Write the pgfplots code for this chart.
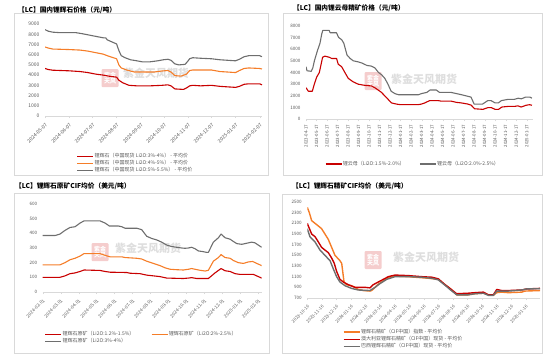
\documentclass[border=0pt]{standalone}
\usepackage{pgfplots}
\pgfplotsset{compat=1.18}
\usepackage{fontspec}
\setmainfont{Noto Sans CJK SC}
\definecolor{cred}{RGB}{200,0,0}
\definecolor{corange}{RGB}{245,125,40}
\definecolor{cgray}{RGB}{110,110,110}
\definecolor{cframe}{RGB}{217,217,217}
\definecolor{ctick}{RGB}{89,89,89}
\definecolor{cwm}{RGB}{222,222,222}
\definecolor{cseal}{RGB}{245,205,205}
\pgfplotsset{
  panel/.style={
    scale only axis, anchor=south west,
    axis x line*=bottom, axis y line*=left,
    y axis line style={draw=none},
    x axis line style={draw=cframe,line width=0.6pt},
    ytick style={draw=none},
    xtick style={draw=cframe},
    tick align=outside, major tick length=2pt,
    ticklabel style={text=ctick},
    /pgf/number format/assume math mode=true,
    /pgf/number format/1000 sep={},
    legend cell align=left,
    legend style={draw=none,fill=none,text=ctick,inner sep=0pt,outer sep=0pt,
      font=\fontsize{5}{5}\selectfont,
      nodes={inner sep=0.7pt}},
    legend image code/.code={\draw[##1] (0pt,0pt) -- (16pt,0pt);},
    every axis plot/.append style={line width=1.1pt, line join=round},
  },
}
\newcommand{\wm}[4]{%
  \node[fill=cseal,rounded corners=1pt,minimum width=17pt,minimum height=18pt,text=white,align=center,font=\fontsize{6}{6.5}\selectfont\bfseries,inner sep=0pt] at (#1,#2) {紫金\\天风};
  \node[text=cwm,font=\fontsize{11}{11}\selectfont\bfseries] at (#3,#4) {紫金天风期货};
}
\begin{document}
\begin{tikzpicture}[x=1pt,y=1pt]
\useasboundingbox (0,0) rectangle (550,360);
% frames
\draw[cframe,line width=0.6pt] (14,185) rectangle (268,347);
\draw[cframe,line width=0.6pt] (283,185) rectangle (542,347);
\draw[cframe,line width=0.6pt] (14,7) rectangle (269,167);
\draw[cframe,line width=0.6pt] (282,7) rectangle (542,166);
% titles
\node[anchor=west,font=\fontsize{6.7}{7}\selectfont\bfseries,inner sep=0pt] at (18,350) {【LC】国内锂辉石价格（元/吨）};
\node[anchor=west,font=\fontsize{6.7}{7}\selectfont\bfseries,inner sep=0pt] at (293,352) {【LC】国内锂云母精矿价格（元/吨）};
\node[anchor=west,font=\fontsize{6.7}{7}\selectfont\bfseries,inner sep=0pt] at (15,174) {【LC】锂辉石原矿CIF均价（美元/吨）};
\node[anchor=west,font=\fontsize{6.7}{7}\selectfont\bfseries,inner sep=0pt] at (292,174) {【LC】锂辉石精矿CIF均价（美元/吨）};
% watermarks
\wm{110}{282}{156}{287}
\wm{373}{279}{424}{281}
\wm{100}{108}{148}{112}
\wm{373}{100}{426}{103}

% ---------- Panel 1 ----------
\begin{axis}[panel, at={(45pt,244pt)}, width=217pt, height=92pt,
  xmin=0, xmax=279, ymin=0, ymax=9000,
  ytick={0,1000,...,9000},
  yticklabel style={font=\fontsize{5}{5}\selectfont},
  xtick={0,31,61,92,123,153,184,214,245,276},
  xticklabels={2024-05-07,2024-06-07,2024-07-07,2024-08-07,2024-09-07,2024-10-07,2024-11-07,2024-12-07,2025-01-07,2025-02-07},
  xticklabel style={rotate=45,anchor=north east,font=\fontsize{5}{5}\selectfont},
  legend style={at={(0.147,-0.514)},anchor=west},
]
\addplot[cred] coordinates {(0,4650)(4,4550)(10,4480)(31,4420)(45,4350)(55,4250)(65,4100)(75,4000)(82,3900)(92,3800)(95,3500)(100,3250)(108,3000)(118,2950)(135,2950)(150,3000)(158,3050)(162,2950)(167,2650)(178,2600)(182,2750)(186,2950)(190,3000)(200,2950)(214,3000)(225,2900)(235,2850)(245,2800)(250,2900)(256,3100)(262,3150)(276,3150)(279,3050)};
\addlegendentry{锂辉石（中国现货 Li2O:3\%-4\%） - 平均价}
\addplot[corange] coordinates {(0,6750)(4,6650)(10,6550)(31,6500)(45,6450)(55,6350)(65,6200)(75,6050)(80,5900)(86,5750)(92,5600)(95,5000)(98,4700)(105,4500)(115,4300)(125,4300)(140,4300)(150,4400)(158,4450)(162,4300)(167,3950)(175,3900)(182,4100)(186,4450)(190,4500)(214,4500)(225,4350)(245,4250)(250,4450)(256,4650)(262,4700)(276,4650)(279,4600)};
\addlegendentry{锂辉石（中国现货 Li2O:4\%-5\%） - 平均价}
\addplot[cgray] coordinates {(0,8450)(4,8300)(10,8200)(20,8150)(31,8150)(40,8150)(48,8050)(58,7900)(68,7750)(75,7650)(78,7650)(80,7450)(86,7250)(92,7050)(95,6400)(98,5900)(103,5700)(110,5500)(118,5400)(125,5300)(135,5300)(145,5400)(152,5500)(158,5550)(162,5450)(167,5100)(172,5000)(180,5050)(183,5300)(186,5600)(190,5700)(200,5650)(214,5600)(225,5500)(235,5450)(245,5400)(250,5550)(256,5800)(262,5900)(276,5900)(279,5800)};
\addlegendentry{锂辉石（中国现货 Li2O:5\%-5.5\%） - 平均价}
\end{axis}

% ---------- Panel 2 ----------
\begin{axis}[panel, at={(306pt,240.7pt)}, width=227pt, height=93.6pt,
  xmin=0, xmax=21.6, ymin=0, ymax=8000,
  ytick={0,1000,...,8000},
  yticklabel style={font=\fontsize{4.6}{5}\selectfont},
  xtick={0,...,21},
  xticklabels={2023-04-17,2023-05-17,2023-06-17,2023-07-17,2023-08-17,2023-09-17,2023-10-17,2023-11-17,2023-12-17,2024-01-17,2024-02-17,2024-03-17,2024-04-17,2024-05-17,2024-06-17,2024-07-17,2024-08-17,2024-09-17,2024-10-17,2024-11-17,2024-12-17,2025-01-17},
  xticklabel style={rotate=90,anchor=east,font=\fontsize{4.4}{5}\selectfont},
  legend columns=2,
  legend style={at={(0.084,-0.478)},anchor=west,/tikz/every even column/.append style={column sep=14pt}},
]
\addplot[cred] coordinates {(0,2700)(0.22,2400)(0.6,2400)(0.79,3000)(1.01,3600)(1.27,4000)(1.58,5300)(1.8,5400)(2.22,5300)(2.44,5200)(2.91,5200)(3.07,4700)(3.39,4500)(3.7,4000)(4.02,3500)(4.49,3200)(4.97,3000)(5.6,2900)(6.23,2850)(6.55,2700)(6.87,2500)(7.18,2300)(7.5,2000)(7.82,1700)(8.13,1400)(8.61,1300)(9,1250)(10.66,1250)(10.98,1300)(11.3,1400)(11.77,1600)(12.56,1600)(12.88,1550)(13.83,1550)(14.3,1450)(14.78,1400)(15.41,1300)(15.73,1200)(16.04,900)(16.84,850)(17.31,1000)(17.63,1000)(18.0,850)(18.32,850)(18.64,1050)(19.21,1100)(19.84,1100)(20.16,1150)(20.47,1050)(20.95,1200)(21.27,1250)(21.5,1200)};
\addlegendentry{锂云母（Li2O:1.5\%-2.0\%）}
\addplot[cgray] coordinates {(0,4500)(0.1,4150)(0.5,4100)(0.65,4400)(0.8,5000)(1.1,5900)(1.33,6500)(1.5,7300)(1.6,7600)(2.2,7600)(2.3,7400)(2.9,7400)(3.1,7000)(3.4,6800)(3.6,6500)(3.9,5500)(4.2,5200)(4.5,5000)(5.0,4900)(5.35,4800)(5.8,4600)(6.2,4550)(6.55,4400)(6.9,4000)(7.2,3800)(7.5,3500)(7.8,3000)(8.1,2400)(8.45,2200)(8.8,2100)(10.7,2100)(11.0,2200)(11.5,2300)(11.8,2500)(12.4,2500)(12.7,2300)(13.8,2300)(14.3,2200)(14.8,2100)(15.25,2000)(15.7,1900)(16.0,1300)(16.8,1300)(17.3,1600)(17.6,1600)(18.0,1400)(18.3,1400)(18.6,1600)(19.2,1700)(19.8,1700)(20.2,1800)(20.5,1750)(20.9,1900)(21.3,1900)(21.5,1800)};
\addlegendentry{锂云母（Li2O:2.0\%-2.5\%）}
\end{axis}

% ---------- Panel 3 ----------
\begin{axis}[panel, at={(42.7pt,68pt)}, width=219pt, height=88pt,
  xmin=0, xmax=12.19, ymin=0, ymax=600,
  ytick={0,100,...,600},
  yticklabel style={font=\fontsize{4.6}{5}\selectfont},
  xtick={0,...,12},
  xticklabels={2024-02-01,2024-03-01,2024-04-01,2024-05-01,2024-06-01,2024-07-01,2024-08-01,2024-09-01,2024-10-01,2024-11-01,2024-12-01,2025-01-01,2025-02-01},
  xticklabel style={rotate=45,anchor=north east,font=\fontsize{4.6}{5}\selectfont},
  legend columns=2,
  legend style={at={(0.01,-0.52)},anchor=west,/tikz/every even column/.append style={column sep=16pt}},
]
\addplot[cred] coordinates {(0,100)(0.96,100)(1.24,110)(1.52,125)(1.8,130)(2.08,140)(2.3,150)(3.19,147)(3.47,140)(3.75,135)(4.68,133)(4.86,128)(5.42,125)(5.79,115)(6.16,110)(6.53,105)(6.9,95)(7.83,92)(8.11,95)(8.29,98)(8.57,92)(9.22,92)(9.59,130)(9.87,155)(9.93,160)(10.15,145)(10.43,140)(10.71,125)(10.98,120)(11.73,120)(11.91,110)(12.19,95)};
\addlegendentry{锂辉石原矿（Li2O:1.2\%-1.5\%）}
\addplot[corange] coordinates {(0,185)(0.96,185)(1.24,200)(1.52,220)(1.8,230)(2.08,245)(2.3,262)(3.19,262)(3.47,250)(3.75,240)(4.4,240)(4.58,235)(5.23,230)(5.51,225)(5.79,210)(6.16,195)(6.53,180)(6.81,165)(7.09,155)(7.46,152)(7.83,150)(8.11,155)(8.29,160)(8.48,155)(8.76,148)(9.04,143)(9.22,148)(9.5,210)(9.78,235)(9.93,255)(10.15,235)(10.43,230)(10.61,215)(10.89,200)(11.17,195)(11.45,205)(11.69,208)(11.91,195)(12.19,180)};
\addlegendentry{锂辉石原矿（Li2O:2\%-2.5\%）}
\addplot[cgray] coordinates {(0,385)(0.69,385)(0.96,395)(1.24,420)(1.52,440)(1.8,445)(2.08,470)(2.3,485)(3.19,485)(3.47,470)(3.71,450)(4.21,450)(4.4,445)(4.58,435)(5.23,435)(5.51,425)(5.79,380)(6.07,365)(6.35,355)(6.62,340)(6.9,320)(7.18,310)(7.46,305)(7.74,300)(7.92,298)(8.11,300)(8.29,305)(8.48,295)(8.66,280)(8.94,275)(9.13,270)(9.22,270)(9.5,340)(9.78,370)(9.93,395)(10.15,370)(10.43,360)(10.61,345)(10.8,330)(11.08,325)(11.26,330)(11.45,335)(11.63,340)(11.82,335)(12.06,315)(12.19,305)};
\addlegendentry{锂辉石原矿（Li2O:3\%-4\%）}
\end{axis}

% ---------- Panel 4 ----------
\begin{axis}[panel, at={(307.3pt,62pt)}, width=232.7pt, height=96pt,
  xmin=0, xmax=15.97, ymin=700, ymax=2500,
  ytick={700,900,...,2500},
  yticklabel style={font=\fontsize{4.6}{5}\selectfont},
  xtick={0,...,15},
  xticklabels={2023-10-16,2023-11-16,2023-12-16,2024-01-16,2024-02-16,2024-03-16,2024-04-16,2024-05-16,2024-06-16,2024-07-16,2024-08-16,2024-09-16,2024-10-16,2024-11-16,2024-12-16,2025-01-16},
  xticklabel style={rotate=45,anchor=north east,font=\fontsize{4.4}{5}\selectfont},
  legend style={at={(0.153,-0.43)},anchor=west},
  every axis plot/.append style={line width=1.4pt},
]
\addplot[corange] coordinates {(0,2400)(0.14,2300)(0.3,2150)(0.53,2100)(0.76,2050)(0.98,2000)(1.21,1900)(1.44,1800)(1.67,1650)(1.9,1500)(2.24,1400)(2.36,1350)(2.52,1000)(2.7,950)(3.04,930)(3.27,900)(3.5,860)(3.84,840)(4.3,830)(4.42,840)(4.65,900)(4.87,960)(5.1,1000)(5.56,1080)(6.02,1110)(6.93,1100)(7.85,1080)(8.31,1070)(8.99,1050)(9.45,950)(9.79,880)(10.25,760)(11.05,760)(11.51,780)(12.08,790)(12.43,760)(12.77,750)(13.0,800)(13.34,810)(13.8,800)(14.71,810)(14.94,830)(15.97,840)};
\addlegendentry{锂辉石精矿（CIF中国）指数 - 平均价}
\addplot[cred] coordinates {(0,2100)(0.07,2050)(0.3,1900)(0.53,1850)(0.76,1750)(0.98,1650)(1.21,1600)(1.44,1550)(1.67,1450)(1.85,1350)(2.01,1200)(2.24,1050)(2.47,1000)(2.81,950)(3.27,900)(3.96,900)(4.3,890)(4.53,950)(4.87,1000)(5.22,1050)(5.56,1100)(6.02,1130)(6.93,1120)(7.85,1100)(8.54,1090)(8.99,1060)(9.45,950)(9.79,880)(10.25,780)(11.05,790)(11.51,800)(12.08,810)(12.43,760)(12.77,760)(13.0,860)(13.34,840)(13.8,840)(14.71,850)(15.06,870)(15.97,880)};
\addlegendentry{澳大利亚锂辉石精矿（CIF中国）现货 - 平均价}
\addplot[cgray] coordinates {(0,2000)(0.18,1850)(0.53,1750)(0.87,1600)(1.21,1500)(1.56,1400)(1.78,1250)(2.01,1100)(2.24,1000)(2.59,930)(3.04,880)(3.5,850)(4.3,840)(4.65,900)(4.99,970)(5.45,1050)(6.02,1100)(6.93,1100)(7.85,1090)(8.54,1070)(8.99,1040)(9.45,940)(9.79,860)(10.25,760)(11.05,760)(11.51,780)(12.08,790)(12.43,750)(12.77,750)(13.0,830)(13.34,830)(13.8,830)(14.71,850)(15.06,870)(15.97,875)};
\addlegendentry{巴西锂辉石精矿（CIF中国）现货 - 平均价}
\end{axis}
\end{tikzpicture}
\end{document}
